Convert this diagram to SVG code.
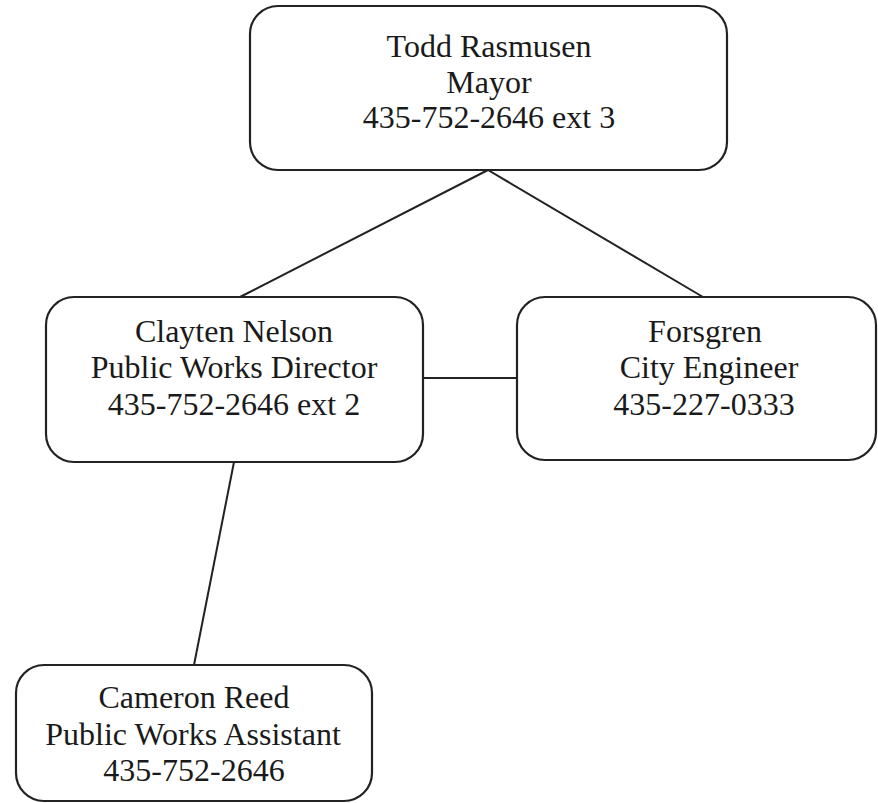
<svg xmlns="http://www.w3.org/2000/svg" width="878" height="803" viewBox="0 0 878 803">
<style>
.box{fill:#fff;stroke:#222;stroke-width:2.2}
.ln{stroke:#222;stroke-width:2;fill:none}
text{font-family:"Liberation Serif","Times New Roman",serif;font-size:32px;fill:#1a1a1a;text-anchor:middle}
</style>
<rect width="878" height="803" fill="#fff"/>
<g id="connectors">
<line class="ln" x1="488" y1="170" x2="240" y2="297"/>
<line class="ln" x1="488" y1="170" x2="703" y2="297"/>
<line class="ln" x1="423" y1="378" x2="517" y2="378"/>
<line class="ln" x1="234" y1="462" x2="194" y2="665"/>
</g>
<g id="mayor">
<rect class="box" x="250" y="6" width="477" height="164" rx="28"/>
<text x="489" y="57">Todd Rasmusen</text>
<text x="489" y="93">Mayor</text>
<text x="489" y="128">435-752-2646 ext 3</text>
</g>
<g id="director">
<rect class="box" x="46" y="297" width="377" height="165" rx="28"/>
<text x="234" y="342">Clayten Nelson</text>
<text x="234" y="378">Public Works Director</text>
<text x="234" y="415">435-752-2646 ext 2</text>
</g>
<g id="engineer">
<rect class="box" x="517" y="297" width="359" height="163" rx="28"/>
<text x="705" y="342">Forsgren</text>
<text x="709" y="378">City Engineer</text>
<text x="704" y="415">435-227-0333</text>
</g>
<g id="assistant">
<rect class="box" x="16" y="665" width="356" height="136" rx="28"/>
<text x="194" y="708">Cameron Reed</text>
<text x="193" y="745">Public Works Assistant</text>
<text x="194" y="781">435-752-2646</text>
</g>
</svg>
